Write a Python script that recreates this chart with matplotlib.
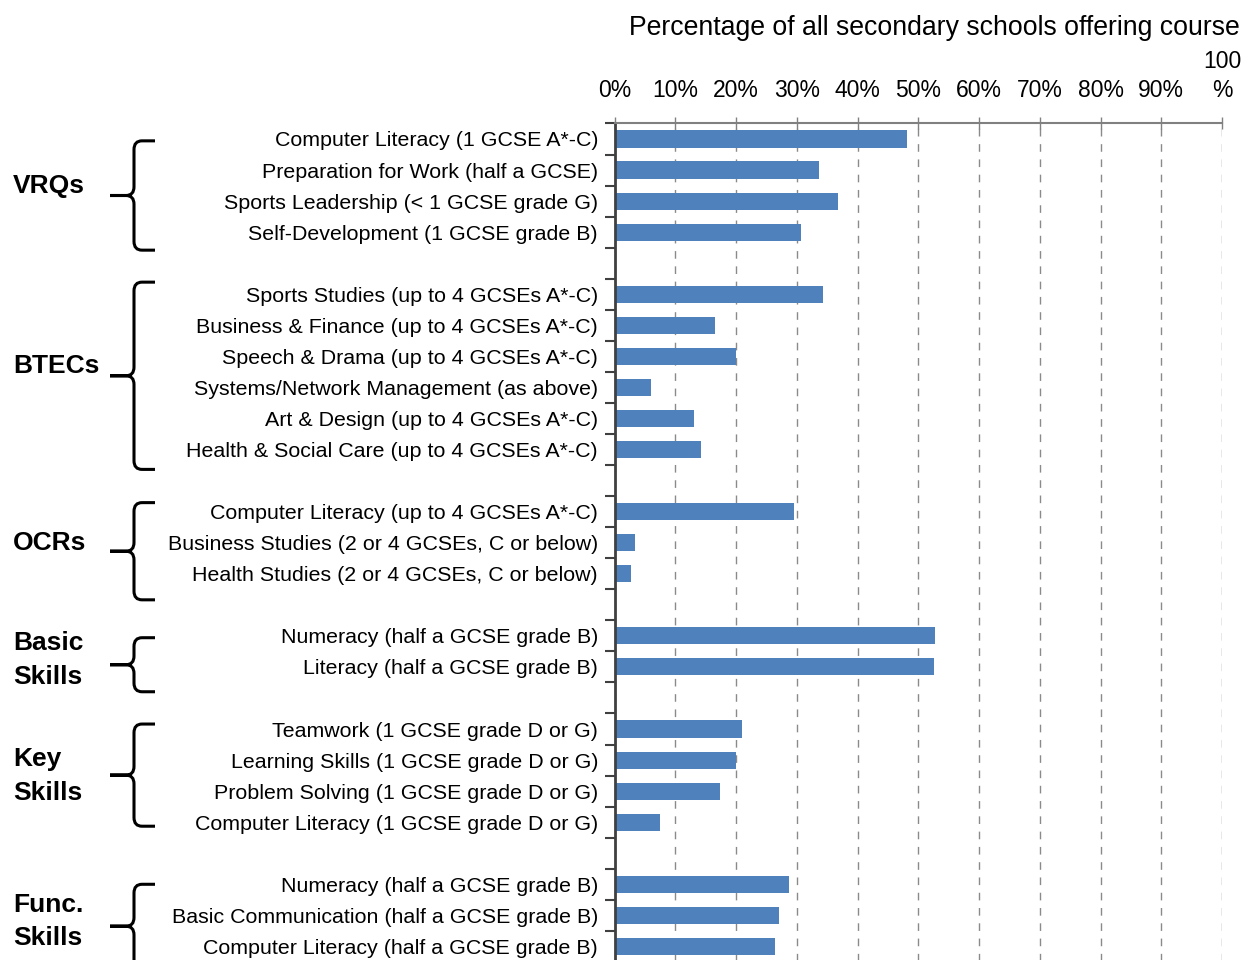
import matplotlib.pyplot as plt
import numpy as np
from matplotlib import transforms
from matplotlib.path import Path
from matplotlib.patches import PathPatch

plt.rcParams['font.family'] = ['Liberation Sans', 'DejaVu Sans']

# qualification groups, top to bottom
group_names = ['VRQs', 'BTECs', 'OCRs', 'Basic\nSkills', 'Key\nSkills', 'Func.\nSkills']
group_sizes = [4, 6, 3, 2, 4, 3]

courses = [
    'Computer Literacy (1 GCSE A*-C)',
    'Preparation for Work (half a GCSE)',
    'Sports Leadership (< 1 GCSE grade G)',
    'Self-Development (1 GCSE grade B)',
    'Sports Studies (up to 4 GCSEs A*-C)',
    'Business & Finance (up to 4 GCSEs A*-C)',
    'Speech & Drama (up to 4 GCSEs A*-C)',
    'Systems/Network Management (as above)',
    'Art & Design (up to 4 GCSEs A*-C)',
    'Health & Social Care (up to 4 GCSEs A*-C)',
    'Computer Literacy (up to 4 GCSEs A*-C)',
    'Business Studies (2 or 4 GCSEs, C or below)',
    'Health Studies (2 or 4 GCSEs, C or below)',
    'Numeracy (half a GCSE grade B)',
    'Literacy (half a GCSE grade B)',
    'Teamwork (1 GCSE grade D or G)',
    'Learning Skills (1 GCSE grade D or G)',
    'Problem Solving (1 GCSE grade D or G)',
    'Computer Literacy (1 GCSE grade D or G)',
    'Numeracy (half a GCSE grade B)',
    'Basic Communication (half a GCSE grade B)',
    'Computer Literacy (half a GCSE grade B)',
]

# percentage of all secondary schools offering each course
offering_pct = [48.1, 33.6, 36.7, 30.7,
                34.3, 16.5, 20.0, 6.0, 13.1, 14.2,
                29.5, 3.3, 2.7,
                52.8, 52.6,
                21.0, 20.0, 17.3, 7.5,
                28.7, 27.1, 26.4]

x_ticks = [0, 10, 20, 30, 40, 50, 60, 70, 80, 90, 100]
x_tick_labels = ['0%', '10%', '20%', '30%', '40%', '50%',
                 '60%', '70%', '80%', '90%', '100\n%']

# brace ends relative to first / last row of each group (in rows)
brace_pad = [(0.06, 0.58), (-0.39, 0.64), (-0.29, 0.84),
             (0.06, 0.80), (-0.16, 0.13), (0.0, 0.70)]
label_shift = [0.0, -0.2, 0.0, 0.27, 0.0, 0.2]

# one row per course, one blank row between groups
rows = []
group_rows = []
slot = 0
for size in group_sizes:
    g = list(range(slot, slot + size))
    rows += g
    group_rows.append(g)
    slot += size + 1
n_slots = slot - 1

W, H = 1244, 960
fig = plt.figure(figsize=(W / 100, H / 100), dpi=100)
ax = fig.add_axes([614.7 / W, -0.002, 607.3 / W, 0.8734])

ax.barh(rows, offering_pct, height=0.55, color='#4F81BD', zorder=2)
ax.set_xlim(0, 100)
ax.set_ylim(n_slots - 0.5, -0.5)

ax.xaxis.tick_top()
ax.set_xticks(x_ticks, x_tick_labels)
ax.tick_params(axis='x', direction='inout', length=9, width=1,
               color='#808080', labelsize=16.5, pad=11)
ax.xaxis.get_major_ticks()[-1].label2.set_linespacing(1.35)

ax.set_yticks(rows, courses)
ax.set_yticks(np.arange(-0.5, n_slots, 1.0), minor=True)
ax.tick_params(axis='y', which='major', length=0, pad=12, labelsize=15.4)
ax.tick_params(axis='y', which='minor', length=7, width=1.5,
               color='#404040', direction='out')

for side in ['right', 'bottom']:
    ax.spines[side].set_visible(False)
ax.spines['left'].set_color('#404040')
ax.spines['left'].set_linewidth(2)
ax.spines['top'].set_color('#808080')
ax.spines['top'].set_linewidth(1.5)

ax.grid(axis='x', color='#8a8a8a', linestyle=(0, (5.5, 5.5)), linewidth=1)
ax.set_axisbelow(True)

fig.text(1240 / W, 1 - 28 / H,
         'Percentage of all secondary schools offering course',
         ha='right', va='center', fontsize=19.2)

# group braces and names: x in figure fraction, y in row units
trans = transforms.blended_transform_factory(fig.transFigure, ax.transData)
hx, vx, cx = 155 / W, 134 / W, 110 / W
k = 8 / W
r = 0.28
for name, g, (pt, pb), shift in zip(group_names, group_rows, brace_pad, label_shift):
    t = g[0] + pt
    b = g[-1] + pb
    m = (t + b) / 2
    verts = [(hx, t), (vx + k, t), (vx, t), (vx, t + r),
             (vx, m - r), (vx, m), (vx - k, m), (cx, m),
             (vx - k, m), (vx, m), (vx, m + r),
             (vx, b - r), (vx, b), (vx + k, b), (hx, b)]
    codes = [Path.MOVETO, Path.LINETO, Path.CURVE3, Path.CURVE3,
             Path.LINETO, Path.CURVE3, Path.CURVE3, Path.LINETO,
             Path.LINETO, Path.CURVE3, Path.CURVE3,
             Path.LINETO, Path.CURVE3, Path.CURVE3, Path.LINETO]
    ax.add_patch(PathPatch(Path(verts, codes), transform=trans, fill=False,
                           edgecolor='black', linewidth=2.2, clip_on=False))
    ax.text(13 / W, (g[0] + g[-1]) / 2 + shift, name, transform=trans,
            ha='left', va='center', fontsize=19, fontweight='bold',
            linespacing=1.52)

fig.savefig('out.png', dpi=100)
